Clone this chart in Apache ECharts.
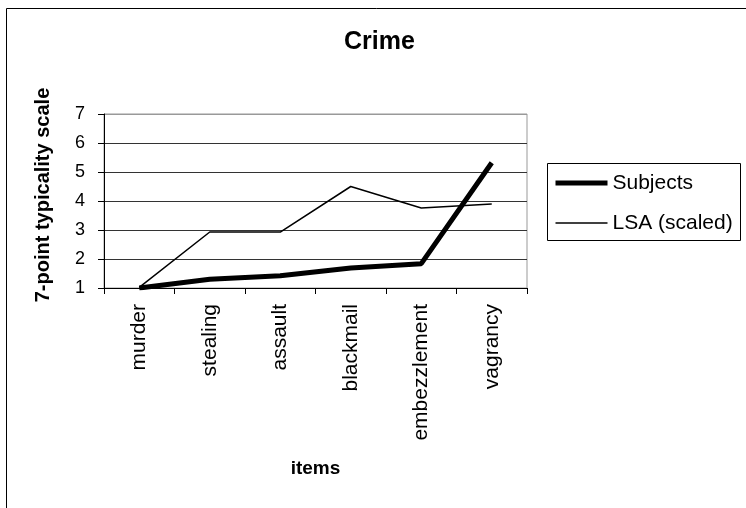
<!DOCTYPE html>
<html>
<head>
<meta charset="utf-8">
<script src="https://cdn.jsdelivr.net/npm/echarts@6/dist/echarts.min.js"></script>
<style>
  html, body { margin: 0; padding: 0; background: #fff; }
  #chart { width: 746px; height: 508px; }
</style>
</head>
<body>
<div id="chart"></div>
<script>
// Crime items rated on a 7-point typicality scale
const categories = ['murder', 'stealing', 'assault', 'blackmail', 'embezzlement', 'vagrancy'];
const subjects = [1.0, 1.3, 1.42, 1.69, 1.84, 5.32];
const lsaScaled = [1.02, 2.93, 2.93, 4.5, 3.76, 3.9];
const yTicks = [1, 2, 3, 4, 5, 6, 7];

const font = 'Liberation Sans, Arial, sans-serif';
const chart = echarts.init(document.getElementById('chart'), null, { renderer: 'canvas' });

// legend swatches: plain lines, no point symbol
const hiddenSymbol = { color: 'rgba(0,0,0,0)', borderWidth: 0 };

chart.setOption({
  backgroundColor: '#ffffff',
  animation: false,
  title: {
    text: 'Crime',
    left: 339,
    top: 25,
    textStyle: { fontFamily: font, fontSize: 25, fontWeight: 'bold', color: '#000' }
  },
  graphic: [{
    // chart area frame
    type: 'rect',
    shape: { x: 6.5, y: 8.5, width: 745, height: 520 },
    style: { fill: 'none', stroke: '#000', lineWidth: 1 },
    silent: true,
    z: -1
  }, {
    // legend frame
    type: 'rect',
    shape: { x: 547.5, y: 163.5, width: 193, height: 77 },
    style: { fill: '#fff', stroke: '#000', lineWidth: 1 },
    silent: true,
    z: 1
  }],
  legend: {
    orient: 'vertical',
    left: 548,
    top: 166,
    padding: 5,
    itemWidth: 52,
    itemHeight: 24,
    itemGap: 16,
    textStyle: { fontFamily: font, fontSize: 21, color: '#000', lineHeight: 24 },
    data: [
      { name: 'Subjects', lineStyle: { width: 5, color: '#000' }, itemStyle: hiddenSymbol },
      { name: 'LSA (scaled)', lineStyle: { width: 1.5, color: '#000' }, itemStyle: hiddenSymbol }
    ],
    z: 5
  },
  grid: {
    left: 104,
    top: 114,
    right: 219,
    bottom: 220,
    show: true,
    borderColor: '#999999',
    borderWidth: 1,
    containLabel: false
  },
  xAxis: {
    type: 'category',
    data: categories,
    boundaryGap: true,
    name: 'items',
    nameLocation: 'middle',
    nameGap: 171,
    nameTextStyle: { fontFamily: font, fontSize: 19, fontWeight: 'bold', color: '#000' },
    axisLine: { lineStyle: { color: '#000', width: 1 } },
    axisTick: { show: true, interval: 0, length: 6, inside: false, lineStyle: { color: '#000' } },
    axisLabel: {
      interval: 0,
      rotate: 90,
      margin: 16,
      fontFamily: font,
      fontSize: 21,
      color: '#000'
    },
    splitLine: { show: false }
  },
  yAxis: {
    type: 'value',
    min: yTicks[0],
    max: yTicks[yTicks.length - 1],
    interval: 1,
    name: '7-point typicality scale',
    nameLocation: 'middle',
    nameGap: 51,
    nameTextStyle: { fontFamily: font, fontSize: 20, fontWeight: 'bold', color: '#000', padding: [0, 0, 0, 12] },
    axisLine: { show: true, lineStyle: { color: '#000', width: 1 } },
    axisTick: { show: true, length: 6, inside: false, lineStyle: { color: '#000' } },
    axisLabel: { margin: 19, fontFamily: font, fontSize: 18, color: '#000' },
    splitLine: {
      show: true,
      lineStyle: { color: ['#000', '#333', '#333', '#333', '#333', '#333', '#999'], width: 1 }
    }
  },
  series: [
    {
      name: 'Subjects',
      type: 'line',
      data: subjects,
      symbol: 'none',
      lineStyle: { color: '#000', width: 5 },
      itemStyle: { color: '#000' },
      z: 3
    },
    {
      name: 'LSA (scaled)',
      type: 'line',
      data: lsaScaled,
      symbol: 'none',
      lineStyle: { color: '#000', width: 1.5 },
      itemStyle: { color: '#000' },
      z: 2
    }
  ]
});
</script>
</body>
</html>
